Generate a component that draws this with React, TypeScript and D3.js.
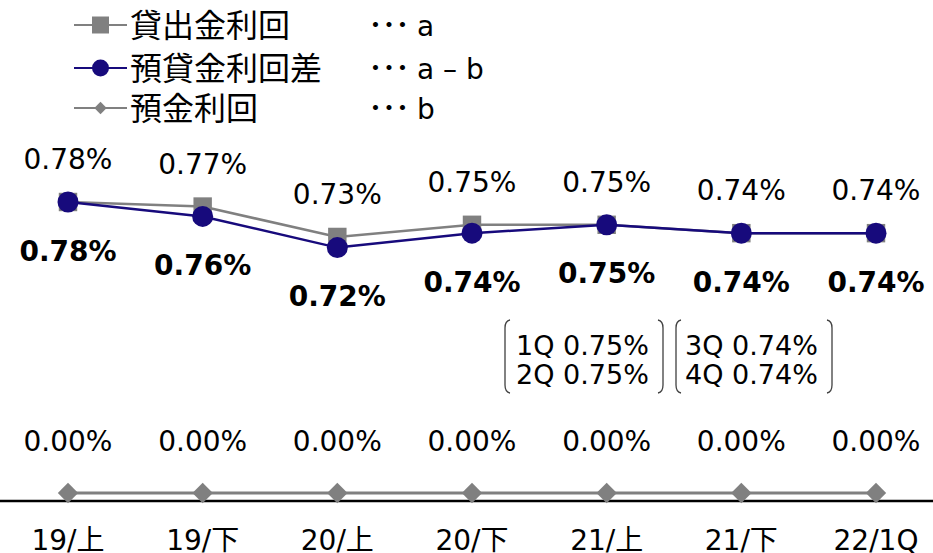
import React from "react";
import * as d3 from "d3";

const categories = ["19/上", "19/下", "20/上", "20/下", "21/上", "21/下", "22/1Q"];
const loanYield = [0.78, 0.774, 0.734, 0.75, 0.75, 0.739, 0.739];
const spread = [0.78, 0.761, 0.72, 0.739, 0.75, 0.739, 0.739];
const depositYield = [0.0, 0.0, 0.0, 0.0, 0.0, 0.0, 0.0];
const legendNames = ["貸出金利回", "預貸金利回差", "預金利回"];
const legendNotes = ["a", "a – b", "b"];
const legendDots = "･･･";
const quarterNotes = [
  ["1Q 0.75%", "2Q 0.75%"],
  ["3Q 0.74%", "4Q 0.74%"],
];

const W = 933;
const H = 553;
const GRAY = "#808080";
const NAVY = "#170a7c";
const FONT = "'DejaVu Sans', 'Noto Sans CJK JP', sans-serif";

const fmt = (v: number) => v.toFixed(2) + "%";

export default function App() {
  const x = d3.scalePoint<string>().domain(categories).range([68, 876]);
  // upper panel (broken axis)
  const y = d3.scaleLinear().domain([0.72, 0.78]).range([247.6, 202]);
  // lower panel for deposit rate
  const y2 = d3.scaleLinear().domain([0, 0.06]).range([493, 447.4]);

  const lineLoan = d3
    .line<number>()
    .x((_, i) => x(categories[i])!)
    .y((d) => y(d));
  const lineDep = d3
    .line<number>()
    .x((_, i) => x(categories[i])!)
    .y((d) => y2(d));

  const sym = (type: d3.SymbolType, size: number) => d3.symbol().type(type).size(size)()!;
  const squarePath = sym(d3.symbolSquare, 340);
  const legendSquare = sym(d3.symbolSquare, 289);
  const diamondPath = sym(d3.symbolDiamond2, 265);
  const legendDiamond = sym(d3.symbolDiamond2, 98);

  const bracket = (x0: number, x1: number, top: number, bottom: number) => {
    const r = 8;
    const c = 5;
    const l = `M${x0 + c},${top} Q${x0},${top + 1} ${x0},${top + r} L${x0},${bottom - r} Q${x0},${bottom - 1} ${x0 + c},${bottom}`;
    const rr = `M${x1 - c},${top} Q${x1},${top + 1} ${x1},${top + r} L${x1},${bottom - r} Q${x1},${bottom - 1} ${x1 - c},${bottom}`;
    return [l, rr];
  };

  const boxes = [
    { x0: 505, x1: 663, tx: 516 },
    { x0: 676, x1: 832, tx: 685 },
  ];

  const legendY = [25, 68, 108];

  return (
    <svg width={W} height={H} style={{ position: "absolute", left: 0, top: 0, background: "#fff" }} fontFamily={FONT}>
      <style>{`body{margin:0}`}</style>
      <rect width={W} height={H} fill="#fff" />

      {/* Legend */}
      {legendNames.map((name, i) => {
        const ly = legendY[i];
        const color = i === 1 ? NAVY : GRAY;
        return (
          <g key={name}>
            <line x1={74} x2={127} y1={ly} y2={ly} stroke={color} strokeWidth={2.2} />
            {i === 0 && <path d={legendSquare} transform={`translate(100.5,${ly})`} fill={GRAY} />}
            {i === 1 && <circle cx={100.5} cy={ly} r={8.5} fill={NAVY} />}
            {i === 2 && <path d={legendDiamond} transform={`translate(100.5,${ly})`} fill={GRAY} />}
            <text x={130} y={ly + 12} fontSize={32} fill="#000">
              {name}
            </text>
            <text x={368} y={ly + 11} fontSize={30} fill="#000" textLength={42} lengthAdjust="spacing">
              {legendDots}
            </text>
            <text x={417} y={ly + 11} fontSize={28} fill="#000">
              {legendNotes[i]}
            </text>
          </g>
        );
      })}

      {/* Axis line */}
      <line x1={0} x2={W} y1={501} y2={501} stroke="#000" strokeWidth={2.5} />

      {/* Deposit series */}
      <path d={lineDep(depositYield)!} fill="none" stroke={GRAY} strokeWidth={3} />
      {depositYield.map((v, i) => (
        <path key={"d" + i} d={diamondPath} transform={`translate(${x(categories[i])},${y2(v)})`} fill={GRAY} />
      ))}
      {depositYield.map((v, i) => (
        <text key={"dl" + i} x={x(categories[i])} y={y2(v) - 42} fontSize={28} textAnchor="middle" fill="#000">
          {fmt(v)}
        </text>
      ))}

      {/* Loan yield */}
      <path d={lineLoan(loanYield)!} fill="none" stroke={GRAY} strokeWidth={2.5} />
      {loanYield.map((v, i) => (
        <path key={"l" + i} d={squarePath} transform={`translate(${x(categories[i])},${y(v)})`} fill={GRAY} />
      ))}
      {loanYield.map((v, i) => (
        <text key={"ll" + i} x={x(categories[i])} y={y(v) - 33} fontSize={28} textAnchor="middle" fill="#000">
          {fmt(v)}
        </text>
      ))}

      {/* Spread */}
      <path d={lineLoan(spread)!} fill="none" stroke={NAVY} strokeWidth={2.5} />
      {spread.map((v, i) => (
        <circle key={"s" + i} cx={x(categories[i])} cy={y(v)} r={10.5} fill={NAVY} />
      ))}
      {spread.map((v, i) => (
        <text
          key={"sl" + i}
          x={x(categories[i])}
          y={y(v) + 58.5}
          fontSize={28}
          fontWeight="bold"
          textAnchor="middle"
          fill="#000"
        >
          {fmt(v)}
        </text>
      ))}

      {/* Quarter notes with brackets */}
      {boxes.map((b, k) => (
        <g key={"b" + k}>
          {bracket(b.x0, b.x1, 320, 393).map((d, j) => (
            <path key={j} d={d} fill="none" stroke="#404040" strokeWidth={1.3} />
          ))}
          <text x={b.tx} y={355} fontSize={27} fill="#000">
            {quarterNotes[k][0]}
          </text>
          <text x={b.tx} y={384} fontSize={27} fill="#000">
            {quarterNotes[k][1]}
          </text>
        </g>
      ))}

      {/* X axis labels */}
      {categories.map((c) => (
        <text key={c} x={x(c)} y={550} fontSize={28} textAnchor="middle" fill="#000">
          {c}
        </text>
      ))}
    </svg>
  );
}
